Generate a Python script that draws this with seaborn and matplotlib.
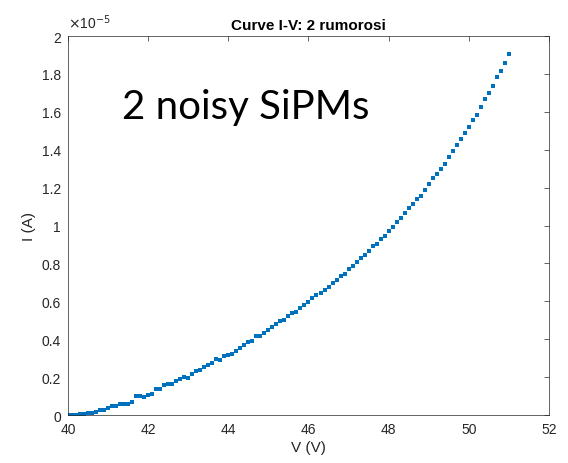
import numpy as np
import pandas as pd
import seaborn as sns
import matplotlib.pyplot as plt
from matplotlib.ticker import FuncFormatter

# V sweep (V) and measured current (units of 1e-5 A)
voltage = [40.0, 40.1, 40.2, 40.3, 40.4, 40.5, 40.6, 40.7, 40.8, 40.9,
           41.0, 41.1, 41.2, 41.3, 41.4, 41.5, 41.6, 41.7, 41.8, 41.9,
           42.0, 42.1, 42.2, 42.3, 42.4, 42.5, 42.6, 42.7, 42.8, 42.9,
           43.0, 43.1, 43.2, 43.3, 43.4, 43.5, 43.6, 43.7, 43.8, 43.9,
           44.0, 44.1, 44.2, 44.3, 44.4, 44.5, 44.6, 44.7, 44.8, 44.9,
           45.0, 45.1, 45.2, 45.3, 45.4, 45.5, 45.6, 45.7, 45.8, 45.9,
           46.0, 46.1, 46.2, 46.3, 46.4, 46.5, 46.6, 46.7, 46.8, 46.9,
           47.0, 47.1, 47.2, 47.3, 47.4, 47.5, 47.6, 47.7, 47.8, 47.9,
           48.0, 48.1, 48.2, 48.3, 48.4, 48.5, 48.6, 48.7, 48.8, 48.9,
           49.0, 49.1, 49.2, 49.3, 49.4, 49.5, 49.6, 49.7, 49.8, 49.9,
           50.0, 50.1, 50.2, 50.3, 50.4, 50.5, 50.6, 50.7, 50.8, 50.9,
           51.0]
current = [0.000, 0.000, 0.001, 0.003, 0.004, 0.011, 0.013, 0.018, 0.025, 0.027,
           0.038, 0.045, 0.048, 0.057, 0.057, 0.057, 0.071, 0.099, 0.099, 0.094,
           0.108, 0.113, 0.135, 0.135, 0.156, 0.163, 0.163, 0.177, 0.189, 0.200,
           0.193, 0.217, 0.230, 0.240, 0.251, 0.266, 0.272, 0.296, 0.288, 0.310,
           0.316, 0.323, 0.337, 0.356, 0.372, 0.383, 0.393, 0.416, 0.418, 0.432,
           0.449, 0.463, 0.478, 0.495, 0.502, 0.523, 0.536, 0.546, 0.567, 0.581,
           0.597, 0.615, 0.631, 0.645, 0.662, 0.675, 0.697, 0.715, 0.733, 0.745,
           0.770, 0.789, 0.807, 0.829, 0.845, 0.866, 0.891, 0.905, 0.928, 0.945,
           0.970, 0.993, 1.016, 1.039, 1.065, 1.090, 1.116, 1.139, 1.157, 1.186,
           1.220, 1.252, 1.271, 1.296, 1.327, 1.359, 1.391, 1.426, 1.456, 1.489,
           1.521, 1.556, 1.584, 1.623, 1.668, 1.697, 1.735, 1.783, 1.816, 1.858,
           1.904]
xticks = [40, 42, 44, 46, 48, 50, 52]
yticks = [0, 0.2, 0.4, 0.6, 0.8, 1, 1.2, 1.4, 1.6, 1.8, 2]

df = pd.DataFrame({'V': voltage, 'I': current})

sns.set_theme(style='white')
plt.rcParams['font.family'] = ['Liberation Sans', 'DejaVu Sans']
axcol = '#262626'

fig = plt.figure(figsize=(5.68, 4.64), dpi=100)
ax = fig.add_axes([0.1197, 0.1034, 0.8468, 0.8168])

sns.scatterplot(data=df, x='V', y='I', marker='s', s=5.5, color='#0072BD',
                linewidth=0, ax=ax)

ax.set_xlim(40, 52)
ax.set_ylim(0, 2)
ax.set_xticks(xticks)
ax.set_yticks(yticks)
ax.yaxis.set_major_formatter(FuncFormatter(lambda v, p: f'{v:g}'))
ax.tick_params(direction='in', length=3.5, width=0.5, colors=axcol,
               labelsize=10, top=True, right=True, pad=5)
for s in ax.spines.values():
    s.set_color(axcol)
    s.set_linewidth(0.5)

ax.set_xlabel('V (V)', fontsize=11, color=axcol, labelpad=3)
ax.set_ylabel('I (A)', fontsize=11, color=axcol, labelpad=4)
ax.set_title('Curve I-V: 2 rumorosi', fontsize=11, fontweight='bold',
             color='black', pad=5)
ax.text(0.0, 1.012, r'$\times$10$^{-5}$', transform=ax.transAxes,
        fontsize=10, color=axcol, ha='left', va='bottom')

ax.text(0.113, 0.783, '2 noisy SiPMs', transform=ax.transAxes,
        fontsize=29, family=['Lato', 'DejaVu Sans'], color='black',
        ha='left', va='baseline')

fig.savefig('out.png', dpi=100, facecolor='white')
